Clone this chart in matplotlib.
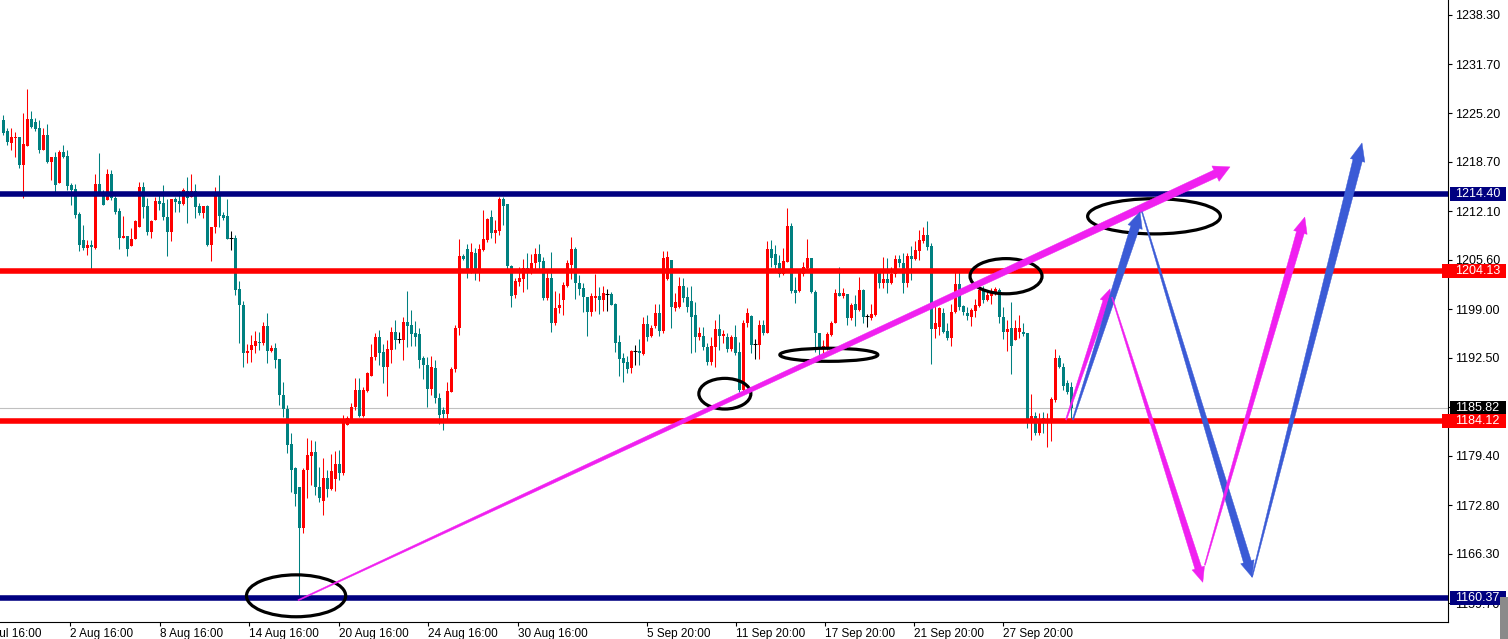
"""
H4 gold chart with support/resistance levels and projected swing arrows
"""

import numpy as np
import matplotlib
matplotlib.use('Agg')
import matplotlib.pyplot as plt
import matplotlib.transforms as mtransforms
from matplotlib.patches import Ellipse, Polygon, Rectangle

plt.rcParams['font.family'] = ['Liberation Sans', 'DejaVu Sans']

# ---- candle data (H4 bars) ----
opens = [
    1224.3, 1222.8, 1221.2, 1221.9, 1222.0, 1218.3, 1220.8, 1224.4, 1224.0, 1223.2,
    1220.3, 1222.3, 1218.7, 1219.3, 1215.8, 1220.0, 1219.5, 1215.6, 1215.1, 1211.7,
    1208.2, 1207.2, 1207.6, 1207.2, 1215.7, 1214.6, 1213.6, 1217.1, 1213.8, 1212.1,
    1208.5, 1208.8, 1207.4, 1208.4, 1210.0, 1215.3, 1212.8, 1209.3, 1210.9, 1213.4,
    1213.2, 1211.3, 1209.3, 1213.7, 1213.4, 1213.0, 1214.8, 1214.0, 1214.8, 1212.8,
    1211.8, 1212.8, 1207.6, 1210.0, 1214.6, 1211.6, 1211.4, 1208.5, 1208.5, 1201.7,
    1199.6, 1193.1, 1193.5, 1194.1, 1194.6, 1194.5, 1196.7, 1193.4, 1193.8, 1192.3,
    1187.5, 1185.7, 1181.0, 1177.8, 1175.2, 1169.8, 1177.5, 1179.4, 1179.9, 1175.2,
    1173.4, 1176.4, 1175.0, 1176.3, 1178.3, 1177.1, 1183.5, 1184.3, 1185.9, 1188.2,
    1184.7, 1188.1, 1190.1, 1192.6, 1195.3, 1193.3, 1191.3, 1193.5, 1195.9, 1195.0,
    1194.9, 1197.3, 1196.9, 1195.8, 1195.7, 1192.5, 1191.5, 1188.3, 1191.1, 1187.1,
    1185.5, 1185.0, 1187.9, 1191.0, 1196.5, 1206.1, 1207.0, 1203.8, 1206.5, 1203.8,
    1206.9, 1208.2, 1211.3, 1209.2, 1209.4, 1213.7, 1213.0, 1204.7, 1200.9, 1202.6,
    1203.0, 1204.5, 1203.8, 1205.2, 1206.4, 1205.4, 1200.5, 1203.2, 1197.1, 1199.1,
    1200.2, 1202.1, 1204.9, 1207.0, 1202.5, 1201.8, 1200.6, 1198.6, 1200.5, 1200.8,
    1200.2, 1201.0, 1201.0, 1199.7, 1194.6, 1192.5, 1191.9, 1191.1, 1193.4, 1193.4,
    1193.0, 1197.0, 1195.4, 1196.7, 1198.5, 1196.1, 1203.0, 1205.6, 1199.1, 1199.3,
    1202.1, 1200.6, 1200.1, 1198.2, 1195.3, 1195.4, 1193.9, 1192.0, 1193.9, 1196.3,
    1195.4, 1195.3, 1193.7, 1195.3, 1193.3, 1188.2, 1197.1, 1198.1, 1194.3, 1194.2,
    1196.9, 1195.8, 1207.0, 1206.4, 1205.1, 1203.7, 1205.3, 1210.1, 1201.6, 1201.4,
    1203.7, 1204.5, 1205.8, 1201.3, 1195.8, 1193.7, 1193.9, 1195.5, 1197.1, 1201.2,
    1200.8, 1201.0, 1197.8, 1199.7, 1198.9, 1201.6, 1198.1, 1197.8, 1198.2, 1204.0,
    1202.5, 1203.0, 1202.5, 1203.7, 1205.7, 1205.2, 1202.5, 1206.1, 1205.7, 1206.8,
    1208.1, 1208.9, 1207.4, 1196.3, 1196.6, 1198.5, 1196.1, 1195.1, 1198.6, 1202.4,
    1199.4, 1198.5, 1198.0, 1198.8, 1199.4, 1201.4, 1200.2, 1200.8, 1201.2, 1201.6,
    1198.0, 1195.9, 1196.5, 1194.9, 1195.9, 1195.9, 1195.8, 1183.9, 1184.7, 1182.5,
    1184.5, 1183.9, 1183.9, 1186.9, 1192.5, 1191.3, 1189.1, 1188.6,
]
highs = [
    1224.9, 1223.2, 1223.2, 1222.7, 1222.0, 1225.2, 1228.4, 1225.5, 1224.5, 1224.3,
    1223.2, 1223.7, 1219.3, 1220.0, 1220.3, 1220.9, 1220.3, 1215.8, 1215.7, 1212.0,
    1210.2, 1208.2, 1208.2, 1217.1, 1219.9, 1214.9, 1217.7, 1217.6, 1214.1, 1212.5,
    1211.4, 1208.8, 1209.8, 1210.9, 1216.0, 1216.0, 1213.8, 1210.9, 1214.0, 1214.5,
    1215.6, 1213.7, 1213.7, 1214.0, 1214.8, 1215.2, 1216.7, 1217.1, 1215.7, 1213.2,
    1212.8, 1212.9, 1210.0, 1215.3, 1216.9, 1212.0, 1213.7, 1209.4, 1208.9, 1202.8,
    1200.1, 1194.3, 1195.5, 1196.1, 1195.9, 1197.3, 1198.5, 1194.2, 1194.5, 1192.3,
    1189.2, 1186.2, 1182.5, 1177.9, 1175.2, 1177.8, 1181.8, 1181.5, 1181.4, 1177.9,
    1179.1, 1177.5, 1179.7, 1180.1, 1180.2, 1184.9, 1184.7, 1186.5, 1189.8, 1189.8,
    1188.6, 1190.6, 1194.3, 1195.8, 1196.2, 1194.3, 1194.9, 1196.6, 1197.6, 1195.9,
    1197.9, 1201.4, 1198.9, 1197.4, 1196.5, 1192.7, 1192.6, 1192.7, 1192.2, 1187.8,
    1185.9, 1189.3, 1191.3, 1196.9, 1208.4, 1206.4, 1207.7, 1207.8, 1207.2, 1207.7,
    1212.2, 1211.2, 1212.2, 1210.9, 1214.0, 1214.0, 1213.0, 1204.9, 1203.2, 1204.6,
    1205.7, 1206.5, 1206.4, 1207.2, 1207.7, 1205.9, 1204.2, 1206.6, 1201.4, 1201.2,
    1202.6, 1205.6, 1208.6, 1207.3, 1203.6, 1202.5, 1200.6, 1201.2, 1203.7, 1202.0,
    1202.1, 1201.7, 1201.3, 1199.8, 1195.6, 1193.2, 1192.7, 1193.6, 1194.2, 1195.0,
    1197.9, 1198.2, 1196.9, 1199.7, 1199.7, 1206.8, 1206.8, 1205.6, 1201.2, 1203.3,
    1203.2, 1202.0, 1202.1, 1199.9, 1196.6, 1196.6, 1194.5, 1195.3, 1197.6, 1198.3,
    1196.2, 1195.8, 1195.5, 1196.9, 1194.6, 1197.6, 1199.1, 1198.2, 1195.0, 1197.6,
    1197.6, 1208.1, 1208.2, 1207.6, 1206.2, 1207.2, 1212.5, 1210.5, 1203.3, 1204.2,
    1205.3, 1208.4, 1205.8, 1201.6, 1195.8, 1194.9, 1195.9, 1197.4, 1201.7, 1204.6,
    1201.8, 1201.0, 1199.8, 1200.9, 1203.3, 1201.7, 1198.4, 1199.7, 1204.2, 1204.4,
    1205.9, 1205.8, 1204.6, 1206.2, 1206.2, 1206.5, 1206.5, 1207.4, 1208.1, 1209.6,
    1210.0, 1210.8, 1207.8, 1199.8, 1199.3, 1199.1, 1197.1, 1199.7, 1204.0, 1203.9,
    1199.6, 1199.3, 1199.1, 1200.3, 1202.1, 1202.1, 1201.6, 1201.8, 1202.0, 1201.8,
    1199.3, 1197.6, 1199.9, 1197.6, 1198.2, 1197.1, 1195.8, 1187.7, 1185.3, 1185.1,
    1185.3, 1185.1, 1187.3, 1193.7, 1192.9, 1191.8, 1189.5, 1189.2,
]
lows = [
    1222.3, 1220.9, 1220.3, 1219.3, 1217.9, 1213.8, 1220.8, 1223.2, 1222.8, 1219.9,
    1220.3, 1218.5, 1216.3, 1214.5, 1215.8, 1219.2, 1214.9, 1212.9, 1211.2, 1206.8,
    1206.9, 1206.2, 1204.2, 1207.0, 1214.3, 1212.9, 1213.6, 1213.6, 1211.7, 1207.0,
    1208.5, 1206.1, 1207.4, 1208.4, 1210.0, 1211.2, 1208.9, 1208.5, 1210.9, 1212.2,
    1210.9, 1206.1, 1208.1, 1212.0, 1212.0, 1212.9, 1210.5, 1214.0, 1211.2, 1211.6,
    1211.2, 1207.4, 1205.4, 1209.2, 1210.0, 1210.9, 1208.4, 1206.9, 1200.9, 1194.5,
    1191.3, 1191.8, 1191.9, 1193.1, 1193.5, 1194.2, 1191.8, 1193.3, 1191.1, 1186.2,
    1184.6, 1179.8, 1174.6, 1172.7, 1160.1, 1169.1, 1173.8, 1175.5, 1174.2, 1173.2,
    1171.5, 1173.9, 1174.8, 1174.7, 1176.2, 1176.8, 1183.5, 1184.3, 1185.5, 1184.6,
    1184.6, 1187.9, 1190.1, 1192.2, 1191.5, 1189.1, 1187.4, 1191.8, 1193.7, 1194.5,
    1192.2, 1193.9, 1194.1, 1194.1, 1191.1, 1189.7, 1185.9, 1187.5, 1186.5, 1183.7,
    1182.9, 1184.3, 1187.9, 1190.6, 1195.5, 1205.6, 1203.1, 1203.8, 1202.9, 1202.8,
    1206.8, 1208.0, 1208.5, 1207.8, 1208.9, 1210.2, 1204.2, 1199.3, 1200.5, 1202.1,
    1201.3, 1201.7, 1203.7, 1204.4, 1204.4, 1200.2, 1200.2, 1195.9, 1196.9, 1198.5,
    1198.2, 1201.9, 1203.0, 1200.3, 1200.9, 1198.6, 1195.4, 1198.1, 1198.7, 1198.4,
    1198.7, 1198.7, 1199.6, 1193.3, 1190.0, 1189.2, 1190.4, 1190.4, 1191.5, 1191.5,
    1192.9, 1194.7, 1195.3, 1196.5, 1195.4, 1195.8, 1202.9, 1196.5, 1198.7, 1199.1,
    1200.0, 1198.6, 1193.1, 1193.3, 1194.9, 1193.5, 1191.5, 1191.6, 1191.3, 1193.5,
    1194.5, 1193.3, 1193.4, 1192.9, 1187.9, 1187.9, 1196.6, 1193.1, 1192.4, 1192.4,
    1195.5, 1195.8, 1204.6, 1204.2, 1203.3, 1203.6, 1205.3, 1201.2, 1199.8, 1201.3,
    1203.4, 1204.2, 1201.2, 1193.3, 1192.6, 1193.1, 1193.5, 1195.4, 1197.1, 1200.8,
    1200.5, 1196.9, 1197.5, 1196.7, 1198.8, 1197.2, 1196.6, 1197.5, 1198.1, 1201.8,
    1201.8, 1201.2, 1202.4, 1203.3, 1204.6, 1201.2, 1201.9, 1202.9, 1205.6, 1205.6,
    1207.8, 1206.9, 1191.7, 1195.1, 1195.5, 1195.8, 1194.9, 1194.1, 1198.5, 1198.9,
    1198.2, 1197.5, 1196.7, 1198.0, 1199.3, 1199.8, 1200.1, 1199.7, 1200.9, 1197.1,
    1195.0, 1193.4, 1190.3, 1194.9, 1195.2, 1195.4, 1183.1, 1181.5, 1182.2, 1182.2,
    1182.5, 1180.6, 1181.4, 1186.6, 1191.1, 1188.2, 1187.7, 1184.2,
]
closes = [
    1222.5, 1221.3, 1222.0, 1222.0, 1218.3, 1221.1, 1224.4, 1223.3, 1223.1, 1220.3,
    1222.3, 1218.7, 1219.3, 1215.6, 1220.0, 1219.3, 1215.5, 1214.9, 1211.6, 1207.6,
    1207.2, 1207.6, 1207.3, 1215.7, 1214.5, 1212.9, 1217.1, 1213.8, 1212.0, 1208.5,
    1208.8, 1207.0, 1208.4, 1210.8, 1215.3, 1212.6, 1209.3, 1210.8, 1213.4, 1213.0,
    1211.3, 1209.3, 1213.7, 1213.3, 1213.0, 1214.9, 1213.8, 1214.8, 1212.6, 1211.8,
    1212.8, 1207.6, 1210.0, 1214.6, 1211.4, 1211.2, 1208.4, 1208.5, 1201.6, 1199.6,
    1193.1, 1193.4, 1194.2, 1194.7, 1194.5, 1196.7, 1193.4, 1193.8, 1192.2, 1187.5,
    1185.7, 1180.9, 1177.5, 1174.3, 1169.8, 1177.5, 1179.5, 1179.9, 1175.2, 1173.8,
    1176.4, 1175.0, 1177.4, 1178.3, 1177.1, 1183.8, 1184.5, 1185.9, 1188.2, 1184.7,
    1188.2, 1190.5, 1192.6, 1195.3, 1193.1, 1191.3, 1193.7, 1195.9, 1194.9, 1195.0,
    1197.3, 1196.7, 1195.7, 1195.3, 1192.2, 1191.5, 1188.3, 1191.3, 1187.1, 1184.9,
    1185.0, 1188.1, 1191.0, 1196.5, 1206.1, 1205.7, 1203.8, 1206.6, 1203.8, 1207.0,
    1208.4, 1211.0, 1209.2, 1209.6, 1213.7, 1212.8, 1204.7, 1200.8, 1202.8, 1203.2,
    1204.5, 1203.8, 1205.2, 1206.4, 1205.3, 1200.5, 1203.2, 1197.1, 1199.2, 1199.6,
    1202.2, 1205.1, 1207.0, 1202.5, 1201.7, 1200.6, 1198.6, 1200.8, 1200.8, 1200.2,
    1201.2, 1201.0, 1199.6, 1194.5, 1192.3, 1191.8, 1191.0, 1193.4, 1193.4, 1193.1,
    1197.0, 1195.3, 1196.5, 1198.5, 1196.1, 1205.8, 1205.9, 1199.3, 1199.9, 1202.1,
    1200.5, 1199.3, 1198.0, 1195.3, 1195.8, 1193.9, 1192.0, 1194.1, 1196.3, 1195.4,
    1195.7, 1193.7, 1195.3, 1193.1, 1188.2, 1197.1, 1198.5, 1194.2, 1194.3, 1196.9,
    1195.8, 1207.0, 1205.8, 1204.9, 1203.7, 1205.4, 1210.1, 1201.4, 1201.2, 1203.8,
    1204.6, 1205.8, 1201.3, 1195.8, 1193.7, 1194.1, 1195.7, 1197.2, 1201.2, 1200.8,
    1201.2, 1197.8, 1199.6, 1198.9, 1201.6, 1198.0, 1198.1, 1198.3, 1204.0, 1202.5,
    1203.0, 1202.5, 1203.7, 1205.7, 1205.1, 1202.5, 1206.1, 1205.7, 1206.9, 1208.2,
    1208.9, 1207.3, 1196.3, 1197.2, 1199.1, 1195.9, 1195.1, 1198.6, 1202.4, 1199.3,
    1198.6, 1198.1, 1198.9, 1199.6, 1201.6, 1200.2, 1200.9, 1201.3, 1201.7, 1198.0,
    1195.9, 1196.3, 1194.1, 1196.5, 1196.5, 1195.7, 1183.9, 1184.7, 1182.5, 1184.3,
    1183.9, 1184.1, 1187.0, 1192.5, 1191.3, 1188.7, 1187.9, 1185.82,
]

# horizontal levels
level_prices = [1214.40, 1204.13, 1184.12, 1160.37]
level_colors = ['#000080', '#ff0000', '#ff0000', '#000080']
bid_price = 1185.82

# price scale and time labels
price_ticks = [1238.30, 1231.70, 1225.20, 1218.70, 1212.10, 1205.60, 1199.00,
               1192.50, 1185.90, 1179.40, 1172.80, 1166.30, 1159.70]
time_tick_bars = [16.7, 39.2, 61.4, 83.9, 106.2, 128.7, 160.9, 183.2, 205.4, 227.7, 249.9]
time_tick_labels = ['2 Aug 16:00', '8 Aug 16:00', '14 Aug 16:00', '20 Aug 16:00',
                    '24 Aug 16:00', '30 Aug 16:00', '5 Sep 20:00', '11 Sep 20:00',
                    '17 Sep 20:00', '21 Sep 20:00', '27 Sep 20:00']

# circled spots: (bar, price, width in bars, height in price)
circles = [
    (73.2, 1160.7, 24.8, 5.6),
    (180.4, 1187.7, 13.0, 4.1),
    (206.4, 1192.9, 24.5, 1.75),
    (250.7, 1203.4, 18.0, 4.7),
    (287.7, 1211.4, 33.2, 4.7),
]

MAGENTA = '#f020f0'
BLUE = '#3b5bd6'
# drawn arrows: start bar/price, tip bar/price, tail px, shaft px, head w, head len, colour
arrows = [
    (73.7, 1160.1, 306.7, 1218.0, 1.2, 8.0, 17, 16, MAGENTA),
    (265.7, 1184.2, 276.7, 1201.7, 1.2, 6.0, 12, 13, MAGENTA),
    (267.4, 1184.2, 284.2, 1212.0, 1.2, 9.0, 15, 16, BLUE),
    (277.2, 1200.6, 299.9, 1162.5, 1.0, 7.0, 13, 15, MAGENTA),
    (284.7, 1212.0, 312.2, 1163.2, 1.0, 8.0, 14, 16, BLUE),
    (300.4, 1164.8, 325.4, 1211.3, 1.0, 8.0, 14, 16, MAGENTA),
    (312.2, 1163.2, 339.7, 1221.2, 1.0, 9.5, 15, 18, BLUE),
]

UP = '#ff0000'
DOWN = '#008080'


def taper_arrow(ax, x0, y0, x1, y1, w0, w1, hw, hl, color):
    """Arrow whose shaft widens from tail to head, sized in pixels"""
    to_px = ax.transData.transform
    p0 = to_px((x0, y0))
    p1 = to_px((x1, y1))
    d = p1 - p0
    u = d / np.hypot(*d)
    n = np.array([-u[1], u[0]])
    b = p1 - u * hl
    pts = [p0 + n * w0 / 2, b + n * w1 / 2, b + n * hw / 2, p1,
           b - n * hw / 2, b - n * w1 / 2, p0 - n * w0 / 2]
    data = ax.transData.inverted().transform(pts)
    ax.add_patch(Polygon(data, closed=True, fc=color, ec=color, lw=0.3, zorder=6))


fig = plt.figure(figsize=(15.08, 6.39), dpi=100)
ax = fig.add_axes([0, 17 / 639, 1448 / 1508, 622 / 639])
ax.set_xlim(-0.825, 361.2)
ax.set_ylim(1157.2, 1240.3)

o = np.array(opens)
h = np.array(highs)
l = np.array(lows)
c = np.array(closes)
x = np.arange(len(c))

cols = np.where(c > o, UP, np.where(c < o, DOWN, 'black'))
doji = c == o
ax.vlines(x, l, h, colors=cols, lw=0.75, zorder=2)
body_bottom = np.minimum(o, c)
body_h = np.maximum(np.abs(c - o), 0.14)
ax.bar(x[~doji], body_h[~doji], bottom=body_bottom[~doji], width=0.8,
       color=cols[~doji], lw=0, zorder=2)
ax.hlines(c[doji], x[doji] - 0.45, x[doji] + 0.45, colors='black', lw=0.75, zorder=2)

# levels
ax.axhline(bid_price, color='#c0c0c0', lw=0.8, zorder=1.5)
for p, col in zip(level_prices, level_colors):
    ax.axhline(p, color=col, lw=4.0, zorder=3)

for cx, cy, w, hgt in circles:
    ax.add_patch(Ellipse((cx, cy), w, hgt, fill=False, ec='black', lw=2.3, zorder=4))

for a in arrows:
    taper_arrow(ax, *a)

# axes styling
for side in ['left', 'top']:
    ax.spines[side].set_visible(False)
ax.spines['right'].set_linewidth(0.8)
ax.spines['bottom'].set_linewidth(0.8)
ax.yaxis.tick_right()
ax.set_yticks(price_ticks)
ax.set_yticklabels(['%.2f' % v for v in price_ticks])
ax.tick_params(axis='y', direction='out', length=3, width=0.8, pad=2.3, labelsize=9)
ax.set_xticks(time_tick_bars)
ax.set_xticklabels(time_tick_labels, ha='left')
ax.tick_params(axis='x', direction='out', length=3, width=0.8, pad=1.5, labelsize=8.5)
ax.text(-6.6, -0.0101, '27 Jul 16:00', fontsize=8.5, ha='left', va='top',
        transform=mtransforms.blended_transform_factory(ax.transData, ax.transAxes),
        clip_on=False)

# price tags on the scale
trans = mtransforms.blended_transform_factory(ax.transAxes, ax.transData)
half = 7 * (1240.3 - 1157.2) / 622
tags = [(1214.40, '#000080', 1450), (1204.13, '#ff0000', 1442),
        (bid_price, '#000000', 1450), (1184.12, '#ff0000', 1442),
        (1160.37, '#000080', 1450)]
for val, face, left in tags:
    ax.add_patch(Rectangle((left / 1448, val - half), (1506 - left) / 1448, 2 * half,
                           transform=trans, fc=face, ec='none', clip_on=False, zorder=10))
    ax.text(1455 / 1448, val, '%.2f' % val, transform=trans, color='white',
            fontsize=9, ha='left', va='center', zorder=11, clip_on=False)

# little scroll widget in the corner
fig.patches.append(Rectangle((1500 / 1508, 0), 8 / 1508, 42 / 639,
                             transform=fig.transFigure, fc='#8a8a8a', ec='none'))

fig.savefig('out.png', dpi=100)
